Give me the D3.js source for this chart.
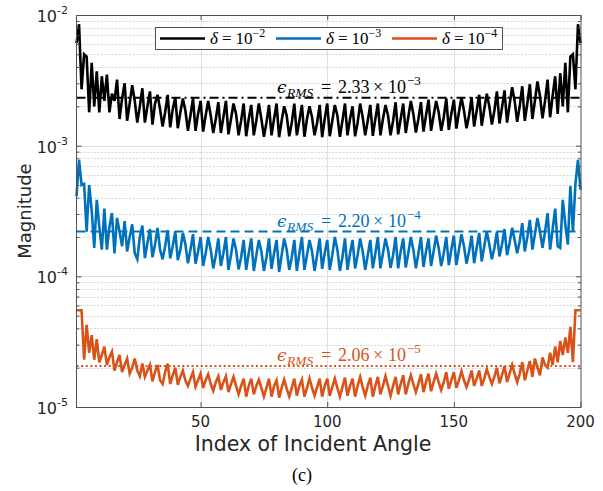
<!DOCTYPE html>
<html>
<head>
<meta charset="utf-8">
<script src="https://cdn.jsdelivr.net/npm/d3@7/dist/d3.min.js"></script>
<style>
  body { margin: 0; background: #fff; }
  svg { display: block; }
</style>
</head>
<body>
<svg id="chart" width="603" height="491"></svg>
<script>
// Error magnitude per incident-angle index (1..200), three regularisation levels.
// Values are mantissas; multiply by the matching unit.
const unitD2 = 1e-3, unitD3 = 1e-4, unitD4 = 1e-5;

const magD2 = [
  6.1, 8.5, 2.7, 5.0, 4.8, 1.8, 4.3, 2.0, 3.7, 1.8,
  3.4, 2.2, 3.5, 1.8, 2.5, 2.2, 3.2, 1.6, 2.3, 3.0,
  1.55, 2.1, 2.9, 2.2, 1.5, 2.0, 2.75, 1.5, 2.0, 2.6,
  1.45, 2.1, 2.45, 1.9, 1.4, 1.8, 2.45, 1.38, 1.9, 2.35,
  1.36, 1.8, 2.3, 1.85, 1.3, 1.7, 2.3, 1.3, 1.75, 2.2,
  1.28, 1.7, 2.2, 1.7, 1.25, 1.6, 2.15, 1.25, 1.65, 2.2,
  1.22, 1.6, 2.1, 1.75, 1.2, 1.55, 2.1, 1.18, 1.6, 2.05,
  1.2, 1.55, 2.1, 1.6, 1.17, 1.5, 2.05, 1.2, 1.6, 2.1,
  1.16, 1.55, 2.0, 1.7, 1.18, 1.5, 2.1, 1.2, 1.55, 2.05,
  1.17, 1.6, 2.0, 1.65, 1.2, 1.5, 2.05, 1.16, 1.6, 2.1,
  1.18, 1.55, 2.05, 1.7, 1.17, 1.55, 2.1, 1.2, 1.6, 2.0,
  1.18, 1.5, 2.1, 1.65, 1.2, 1.55, 2.05, 1.19, 1.6, 2.1,
  1.2, 1.6, 2.05, 1.7, 1.2, 1.55, 2.15, 1.22, 1.6, 2.1,
  1.25, 1.65, 2.2, 1.75, 1.26, 1.6, 2.15, 1.28, 1.7, 2.25,
  1.3, 1.7, 2.2, 1.8, 1.3, 1.65, 2.3, 1.32, 1.75, 2.25,
  1.35, 1.8, 2.35, 1.85, 1.36, 1.7, 2.35, 1.4, 1.85, 2.45,
  1.42, 1.9, 2.5, 2.0, 1.45, 1.85, 2.6, 1.48, 1.95, 2.65,
  1.5, 2.05, 2.8, 2.2, 1.52, 2.0, 2.85, 1.55, 2.1, 2.95,
  1.6, 2.2, 3.1, 2.4, 1.62, 2.2, 3.2, 1.65, 2.4, 3.4,
  1.75, 3.6, 2.0, 4.3, 1.8, 4.8, 5.0, 2.7, 8.5, 6.1
];

const magD3 = [
  4.1, 7.8, 5.0, 5.1, 2.2, 5.0, 3.2, 1.65, 3.85, 2.4,
  1.6, 3.3, 1.6, 2.4, 3.05, 1.5, 2.8, 2.2, 1.7, 2.65,
  1.55, 2.0, 2.5, 1.5, 1.35, 2.0, 2.45, 1.38, 1.8, 2.3,
  1.4, 1.75, 2.35, 1.6, 1.35, 1.7, 2.25, 1.37, 1.7, 2.2,
  1.33, 1.6, 2.15, 1.75, 1.26, 1.6, 2.1, 1.25, 1.55, 2.0,
  1.2, 1.5, 2.0, 1.6, 1.15, 1.45, 1.95, 1.2, 1.5, 2.0,
  1.12, 1.45, 1.95, 1.6, 1.13, 1.4, 1.9, 1.12, 1.5, 1.95,
  1.1, 1.45, 1.9, 1.55, 1.1, 1.4, 1.95, 1.14, 1.5, 1.9,
  1.08, 1.45, 1.95, 1.6, 1.12, 1.4, 1.9, 1.1, 1.5, 2.0,
  1.12, 1.45, 1.9, 1.55, 1.1, 1.45, 1.95, 1.14, 1.5, 1.9,
  1.12, 1.45, 2.0, 1.6, 1.1, 1.4, 1.95, 1.12, 1.5, 1.9,
  1.15, 1.45, 1.95, 1.55, 1.12, 1.45, 1.9, 1.15, 1.5, 2.0,
  1.15, 1.5, 1.95, 1.6, 1.16, 1.45, 2.0, 1.15, 1.55, 1.95,
  1.17, 1.5, 2.0, 1.6, 1.15, 1.5, 2.0, 1.18, 1.55, 1.95,
  1.2, 1.55, 2.05, 1.65, 1.2, 1.5, 2.0, 1.22, 1.6, 2.05,
  1.22, 1.6, 2.1, 1.7, 1.25, 1.55, 2.05, 1.26, 1.65, 2.15,
  1.3, 1.7, 2.2, 1.75, 1.35, 1.65, 2.2, 1.42, 1.75, 2.3,
  1.45, 1.8, 2.35, 1.9, 1.5, 1.85, 2.55, 1.55, 2.0, 2.7,
  1.6, 2.1, 2.8, 2.2, 1.65, 2.2, 3.05, 1.6, 2.3, 3.3,
  1.7, 1.65, 3.85, 2.5, 1.75, 4.9, 2.2, 5.1, 7.8, 4.6
];

const magD4 = [
  5.5, 5.5, 5.5, 2.3, 4.25, 2.6, 3.55, 2.3, 3.3, 2.2,
  2.5, 2.9, 2.1, 2.4, 2.65, 1.9, 2.2, 2.5, 1.85, 2.1,
  2.35, 1.8, 2.0, 2.35, 1.9, 1.72, 2.15, 1.7, 1.9, 2.1,
  1.57, 1.85, 2.1, 1.6, 1.5, 1.85, 2.15, 1.5, 1.75, 2.0,
  1.48, 1.7, 1.9, 1.6, 1.45, 1.65, 1.85, 1.43, 1.6, 1.8,
  1.4, 1.6, 1.78, 1.5, 1.33, 1.55, 1.72, 1.35, 1.55, 1.72,
  1.3, 1.5, 1.7, 1.45, 1.25, 1.45, 1.65, 1.2, 1.45, 1.65,
  1.25, 1.45, 1.62, 1.4, 1.2, 1.4, 1.65, 1.2, 1.45, 1.6,
  1.18, 1.4, 1.62, 1.38, 1.2, 1.4, 1.65, 1.22, 1.45, 1.62,
  1.2, 1.4, 1.65, 1.4, 1.22, 1.42, 1.65, 1.2, 1.45, 1.65,
  1.22, 1.42, 1.65, 1.4, 1.2, 1.42, 1.68, 1.22, 1.45, 1.65,
  1.2, 1.45, 1.7, 1.42, 1.22, 1.45, 1.68, 1.2, 1.45, 1.7,
  1.25, 1.45, 1.72, 1.45, 1.22, 1.45, 1.7, 1.25, 1.5, 1.75,
  1.25, 1.5, 1.75, 1.5, 1.3, 1.5, 1.78, 1.3, 1.55, 1.8,
  1.32, 1.55, 1.8, 1.55, 1.35, 1.55, 1.85, 1.38, 1.6, 1.85,
  1.4, 1.6, 1.88, 1.6, 1.42, 1.62, 1.9, 1.45, 1.65, 1.9,
  1.45, 1.65, 1.95, 1.7, 1.5, 1.7, 2.0, 1.52, 1.75, 2.05,
  1.55, 1.8, 2.1, 1.8, 1.55, 1.8, 2.2, 1.6, 1.9, 2.25,
  1.7, 2.35, 2.0, 1.75, 2.4, 2.1, 2.0, 2.6, 2.1, 2.9,
  2.2, 3.2, 2.5, 3.4, 2.6, 4.1, 2.2, 5.5, 5.5, 5.5
];

// RMS error levels drawn as reference lines
const rmsValues = [2.33e-3, 2.20e-4, 2.06e-5];
const rmsMantissa = ["2.33", "2.20", "2.06"];
const rmsExponent = ["\u22123", "\u22124", "\u22125"];
const legendExponent = ["\u22122", "\u22123", "\u22124"];

const xTickValues = [50, 100, 150, 200];
const yDecades = [1e-5, 1e-4, 1e-3, 1e-2];
const yDecadeExp = ["-5", "-4", "-3", "-2"];

const seriesColors = ["#000000", "#0072BD", "#D95319"];
const rmsDash = ["9,4,2,4", "9,5", "2,2.6"];

const series = [
  magD2.map(v => v * unitD2),
  magD3.map(v => v * unitD3),
  magD4.map(v => v * unitD4)
];

// ---- layout ----
const L = 76.5, R = 581, T = 15, B = 407;
const svg = d3.select("#chart");

const x = d3.scaleLinear().domain([1, 200]).range([L, R - 0.5]);
const y = d3.scaleLog().domain([1e-5, 1e-2]).range([B, T]);

const sansFont = "'DejaVu Sans', sans-serif";
const serifFont = "'Liberation Serif', 'DejaVu Serif', serif";

// minor grid (2..9 within each decade)
const minorVals = [];
for (let e = -5; e < -2; e++) for (let m = 2; m <= 9; m++) minorVals.push(m * Math.pow(10, e));

const grid = svg.append("g");
grid.selectAll("line.minor").data(minorVals).join("line")
  .attr("x1", L).attr("x2", R)
  .attr("y1", d => Math.round(y(d)) + 0.5).attr("y2", d => Math.round(y(d)) + 0.5)
  .attr("stroke", "#d6d6d6").attr("stroke-width", 1).attr("stroke-dasharray", "2,1.5");
grid.selectAll("line.majy").data(yDecades.slice(1, 3)).join("line")
  .attr("x1", L).attr("x2", R)
  .attr("y1", d => Math.round(y(d)) + 0.5).attr("y2", d => Math.round(y(d)) + 0.5)
  .attr("stroke", "#dedede").attr("stroke-width", 1);
grid.selectAll("line.majx").data(xTickValues.slice(0, 3)).join("line")
  .attr("y1", T).attr("y2", B)
  .attr("x1", d => Math.round(x(d)) + 0.5).attr("x2", d => Math.round(x(d)) + 0.5)
  .attr("stroke", "#dedede").attr("stroke-width", 1);

// RMS reference lines
svg.append("g").selectAll("line").data(rmsValues).join("line")
  .attr("x1", L).attr("x2", R)
  .attr("y1", d => y(d)).attr("y2", d => y(d))
  .attr("stroke", (d, i) => seriesColors[i])
  .attr("stroke-width", 2)
  .attr("stroke-dasharray", (d, i) => rmsDash[i]);

// series curves
const line = d3.line().x((d, i) => x(i + 1)).y(d => y(d));
svg.append("g").selectAll("path").data(series).join("path")
  .attr("d", line)
  .attr("fill", "none")
  .attr("stroke", (d, i) => seriesColors[i])
  .attr("stroke-width", 2.6)
  .attr("stroke-linejoin", "miter")
  .attr("stroke-miterlimit", 4);

// axes box
svg.append("rect").attr("x", L).attr("y", T + 0.5).attr("width", R - L).attr("height", B - T)
  .attr("fill", "none").attr("stroke", "#505050").attr("stroke-width", 1);

// y axes (ticks inside on both sides)
const yAxisL = d3.axisRight(y).tickValues(yDecades).tickSize(5).tickFormat("");
const yAxisR = d3.axisLeft(y).tickValues(yDecades).tickSize(5).tickFormat("");
const yMinorL = d3.axisRight(y).tickValues(minorVals).tickSize(3).tickFormat("");
const yMinorR = d3.axisLeft(y).tickValues(minorVals).tickSize(3).tickFormat("");
[[yAxisL, L], [yMinorL, L], [yAxisR, R], [yMinorR, R]].forEach(([ax, px]) => {
  const g = svg.append("g").attr("transform", `translate(${px},0)`).call(ax);
  g.select(".domain").remove();
  g.selectAll("line").attr("stroke", "#505050");
});

// x axes (ticks inside at bottom and top)
const xAxisB = d3.axisTop(x).tickValues(xTickValues).tickSize(5).tickFormat("");
const xAxisT = d3.axisBottom(x).tickValues(xTickValues).tickSize(5).tickFormat("");
[[xAxisB, B], [xAxisT, T]].forEach(([ax, py]) => {
  const g = svg.append("g").attr("transform", `translate(0,${py})`).call(ax);
  g.select(".domain").remove();
  g.selectAll("line").attr("stroke", "#505050");
});

// x tick labels
svg.append("g").selectAll("text").data(xTickValues).join("text")
  .attr("x", d => x(d)).attr("y", 427)
  .attr("text-anchor", "middle")
  .attr("font-family", sansFont).attr("font-size", 15).attr("fill", "#262626")
  .text(d => d);

// y tick labels: 10^e
const yl = svg.append("g").selectAll("text").data(yDecades).join("text")
  .attr("x", 68).attr("y", d => y(d) + 7)
  .attr("text-anchor", "end")
  .attr("font-family", sansFont).attr("fill", "#262626");
yl.append("tspan").attr("font-size", 16).text("10");
yl.append("tspan").attr("font-size", 11).attr("dy", -8).text((d, i) => yDecadeExp[i]);

// axis titles
svg.append("text")
  .attr("x", 313).attr("y", 451)
  .attr("text-anchor", "middle")
  .attr("font-family", sansFont).attr("font-size", 20.5).attr("fill", "#262626")
  .text("Index of Incident Angle");
svg.append("text")
  .attr("transform", `translate(31,${(T + B) / 2}) rotate(-90)`)
  .attr("text-anchor", "middle")
  .attr("font-family", sansFont).attr("font-size", 18).attr("fill", "#262626")
  .text("Magnitude");

// RMS annotations, laid out like typeset math: ϵ_RMS = m × 10^e
const ann = svg.append("g").selectAll("text").data(rmsValues).join("text")
  .attr("y", d => y(d) - 5)
  .attr("font-family", serifFont).attr("font-size", 18)
  .attr("fill", (d, i) => seriesColors[i]);
ann.append("tspan").attr("x", 277).attr("font-style", "italic")
  .attr("font-family", "'DejaVu Serif', serif").attr("font-size", 17).text("\u03F5");
ann.append("tspan").attr("x", 287).attr("dy", 4).attr("font-style", "italic")
  .attr("font-size", 13.5).text("RMS");
ann.append("tspan").attr("x", 321).attr("dy", -4).text("=");
ann.append("tspan").attr("x", 338).text((d, i) => rmsMantissa[i]);
ann.append("tspan").attr("x", 373).text("\u00D7");
ann.append("tspan").attr("x", 388).text("10");
ann.append("tspan").attr("x", 407).attr("dy", -8).attr("font-size", 13).text((d, i) => rmsExponent[i]);

// legend
const leg = svg.append("g");
leg.append("rect").attr("x", 155.5).attr("y", 27.5).attr("width", 347).attr("height", 22)
  .attr("fill", "#fff").attr("stroke", "#505050").attr("stroke-width", 1);
const legX = [160, 276, 392];
const items = leg.selectAll("g.item").data(legendExponent).join("g")
  .attr("transform", (d, i) => `translate(${legX[i]},38.5)`);
items.append("line").attr("x1", 0).attr("x2", 45).attr("y1", 0).attr("y2", 0)
  .attr("stroke", (d, i) => seriesColors[i]).attr("stroke-width", 2.6);
const lt = items.append("text").attr("x", 50).attr("y", 5.5)
  .attr("font-family", serifFont).attr("font-size", 17).attr("fill", "#000");
lt.append("tspan").attr("font-style", "italic").text("\u03B4");
lt.append("tspan").attr("dx", 4).text("=");
lt.append("tspan").attr("dx", 4).text("10");
lt.append("tspan").attr("font-size", 12).attr("dy", -7).text(d => d);

// panel caption
svg.append("text").attr("x", 302).attr("y", 481).attr("text-anchor", "middle")
  .attr("font-family", "'Liberation Serif', serif").attr("font-size", 18).attr("fill", "#000")
  .text("(c)");
</script>
</body>
</html>
